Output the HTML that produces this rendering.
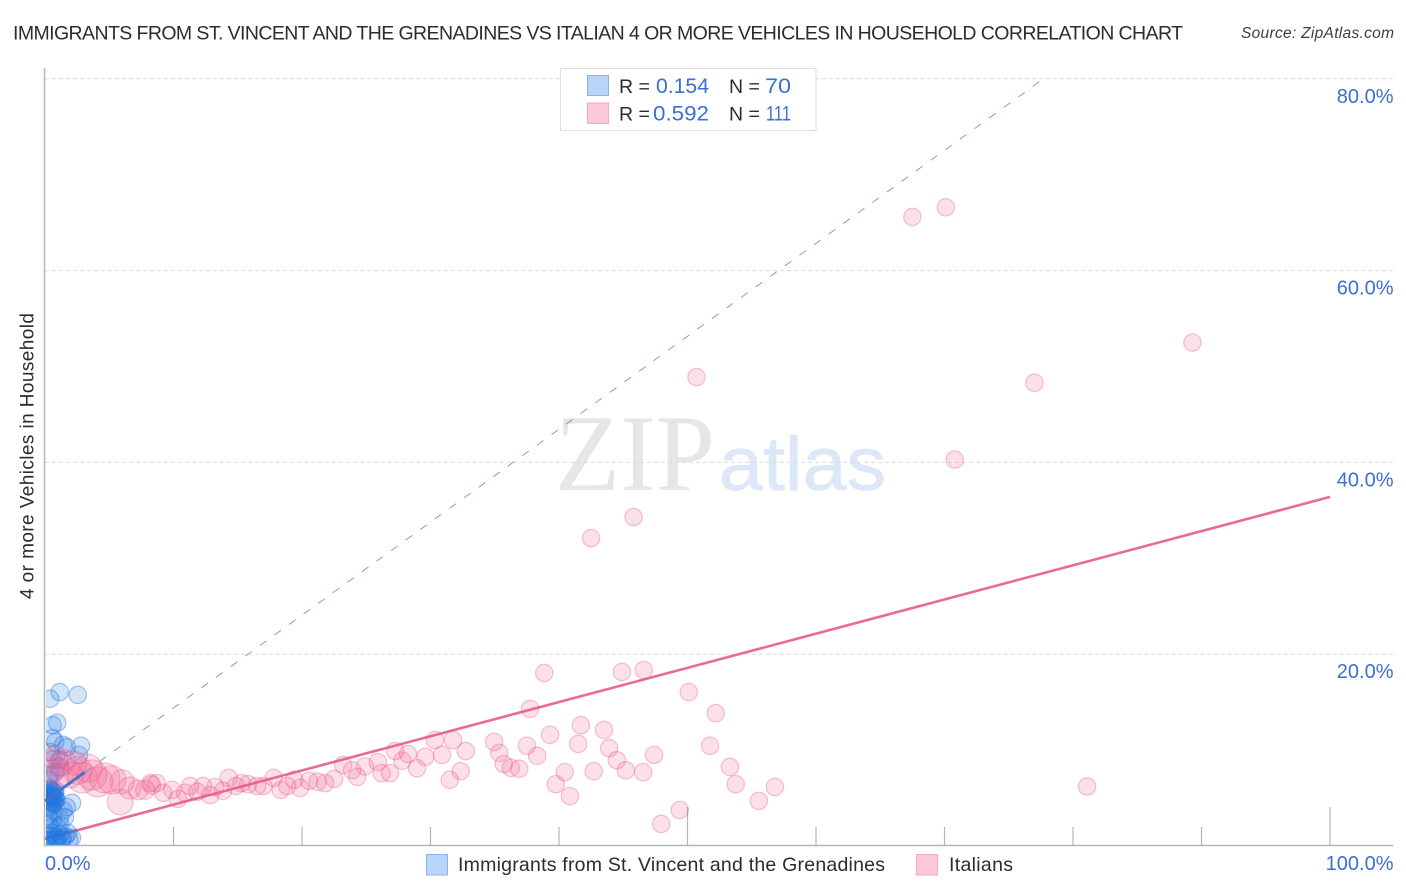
<!DOCTYPE html>
<html lang="en">
<head>
<meta charset="utf-8">
<title>Immigrants from St. Vincent and the Grenadines vs Italian 4 or more Vehicles in Household Correlation Chart</title>
<style>
html,body{margin:0;padding:0;background:#fff;}
svg{display:block;font-family:"Liberation Sans",sans-serif;}
</style>
</head>
<body>
<svg id="chart" xmlns="http://www.w3.org/2000/svg" width="1406" height="892" viewBox="0 0 1406 892">
  <defs>
    <clipPath id="plot-clip"><rect x="46" y="60" width="1350" height="785"></rect></clipPath>
  </defs>
  <rect x="0" y="0" width="1406" height="892" fill="#fff"></rect>
  <text x="13" y="39.5" font-size="19.5" fill="#2b2b33" textLength="1170" lengthAdjust="spacing">IMMIGRANTS FROM ST. VINCENT AND THE GRENADINES VS ITALIAN 4 OR MORE VEHICLES IN HOUSEHOLD CORRELATION CHART</text>
  <text x="1394" y="38" font-size="15.5" font-style="italic" fill="#3c3c44" text-anchor="end" textLength="153" lengthAdjust="spacing">Source: ZipAtlas.com</text>

  <g>
    <text x="555" y="490" font-family="'Liberation Serif',serif" font-size="109" fill="#e6e6e6" textLength="160" lengthAdjust="spacingAndGlyphs">ZIP</text>
    <text x="719" y="490" font-size="76" fill="#dce8f8" stroke="#dce8f8" stroke-width="0.7" textLength="167" lengthAdjust="spacingAndGlyphs">atlas</text>
  </g>

  <g id="grid"></g>
  <g id="axes"></g>
  <g id="pink-trend"></g>
  <g id="blue-points" clip-path="url(#plot-clip)"></g>
  <g id="pink-points" clip-path="url(#plot-clip)"></g>
  <g id="trends"></g>
  <g id="labels"></g>

  <text transform="translate(33.5,456) rotate(-90)" font-size="19" fill="#2b2b33" text-anchor="middle" textLength="286" lengthAdjust="spacing">4 or more Vehicles in Household</text>

  <g>
    <rect x="560.5" y="68.5" width="255.5" height="62" fill="#fff" stroke="#dedede"></rect>
    <rect x="587.5" y="75.5" width="21" height="20" fill="#b9d5fa" stroke="#8ab4e8"></rect>
    <rect x="587.5" y="103" width="21" height="20.5" fill="#fdc8d9" stroke="#f4a9c2"></rect>
    <text x="619" y="93" font-size="19.5" fill="#2b2b33">R =</text>
    <text x="656" y="93" font-size="21" fill="#3b6fd4" textLength="53" lengthAdjust="spacingAndGlyphs">0.154</text>
    <text x="729" y="93" font-size="19.5" fill="#2b2b33">N =</text>
    <text x="765" y="93" font-size="21" fill="#3b6fd4" textLength="26" lengthAdjust="spacingAndGlyphs">70</text>
    <text x="619" y="120.5" font-size="19.5" fill="#2b2b33">R =</text>
    <text x="653" y="120.5" font-size="21" fill="#3b6fd4" textLength="56" lengthAdjust="spacingAndGlyphs">0.592</text>
    <text x="729" y="120.5" font-size="19.5" fill="#2b2b33">N =</text>
    <text x="766" y="120.5" font-size="21" fill="#3b6fd4" textLength="25" lengthAdjust="spacingAndGlyphs">111</text>
  </g>

  <g>
    <rect x="426.5" y="854.5" width="21" height="20.5" fill="#b9d5fa" stroke="#8ab4e8"></rect>
    <text x="458" y="871" font-size="19.5" fill="#2b2b33" textLength="427" lengthAdjust="spacing">Immigrants from St. Vincent and the Grenadines</text>
    <rect x="916.5" y="854.5" width="21" height="20.5" fill="#fdc8d9" stroke="#f4a9c2"></rect>
    <text x="949" y="871" font-size="19.5" fill="#2b2b33" textLength="64" lengthAdjust="spacing">Italians</text>
  </g>
</svg>
<script>
var yTickValues = [20, 40, 60, 80];
var yTickLabels = ["20.0%", "40.0%", "60.0%", "80.0%"];
var xTickValues = [10, 20, 30, 40, 50, 60, 70, 80, 90, 100];
var xMajorTicks = [50, 100];
var xEndValues = [0, 100];
var xEndLabels = ["0.0%", "100.0%"];

var blueX = [1.15,2.55,0.4,0.95,0.6,0.6,0.8,1.4,1.7,2.8,2.65,1.15,0.6,0.4,1.15,0.8,0.4,0.25,
  0.3,0.4,0.5,0.6,0.7,0.8,0.3,0.4,0.5,0.6,0.7,0.8,0.9,0.35,0.45,0.55,0.65,0.75,0.2,0.4,0.6,0.8,0.5,0.3,0.7,
  2.1,1.7,1.55,1.15,0.6,0.4,0.6,1.15,1.8,2.1,1.4,0.95,0.4,0.1,1.6,1.0,0.3,0.2,1.2,0.8,1.3,0.5,0.7,1.9,1.45,0.25,0.9];
var blueY = [16.05,15.75,15.35,12.85,12.6,11.25,10.85,10.55,10.3,10.45,9.5,9.0,9.0,9.8,8.25,7.7,7.4,6.9,
  6.0,5.8,5.9,5.7,5.6,5.4,5.2,5.0,5.3,5.1,4.9,5.0,4.8,4.6,4.7,4.5,4.4,4.6,5.5,5.5,5.2,5.8,4.2,3.9,3.7,
  4.5,4.05,3.0,3.0,2.7,1.9,1.35,1.15,1.35,0.85,0.85,0.65,0.65,0.6,1.0,1.9,2.3,1.0,2.2,0.9,0.7,1.1,0.6,0.7,3.7,3.1,0.8];

var pinkX = [67.5,70.1,89.3,77.0,70.8,50.7,45.8,42.5,81.1,
  30.35,30.9,29.6,28.95,27.8,28.25,27.25,26.85,26.2,25.9,24.9,24.3,23.9,23.2,22.5,21.8,21.2,20.55,19.85,19.4,18.35,17.8,18.85,17.0,16.5,15.8,15.3,14.85,14.3,13.85,13.25,12.85,12.3,11.85,11.3,10.9,10.35,9.9,9.2,8.7,8.2,
  0.4,0.4,0.8,1.2,1.3,1.6,1.95,2.3,2.55,2.9,3.35,3.65,4.1,4.65,5.2,5.85,6.0,6.6,7.25,7.8,8.3,
  31.75,32.75,32.35,31.5,34.95,35.35,35.7,36.25,36.9,37.5,38.3,39.3,37.75,38.85,41.7,41.5,43.5,43.9,44.5,45.2,46.55,47.4,40.45,39.75,40.85,42.7,44.9,46.6,50.1,52.2,51.75,53.3,53.75,56.8,55.55,49.4,47.95,34.3,33.85,33.45,29.35];
var pinkY = [65.6,66.6,52.5,48.3,40.3,48.9,34.3,32.1,6.2,
  11.05,9.5,9.3,8.1,8.9,9.6,9.9,7.6,7.6,8.75,8.3,7.2,7.9,8.45,7.0,6.55,6.7,6.8,6.05,6.9,5.85,7.1,6.25,6.25,6.25,6.45,6.55,6.25,7.1,5.75,6.15,5.3,6.25,5.65,6.25,5.55,4.9,5.85,5.55,6.55,6.55,
  9.0,7.7,9.5,8.45,7.4,9.0,7.4,8.65,7.9,7.1,8.1,7.4,6.7,7.1,6.9,4.6,6.7,6.05,5.85,5.85,6.35,
  11.05,9.9,7.8,6.9,10.85,9.7,8.55,8.15,8.05,10.45,9.4,11.6,14.3,18.05,12.6,10.65,12.1,10.2,8.95,7.9,7.7,9.5,7.7,6.45,5.2,7.8,18.15,18.35,16.05,13.85,10.45,8.25,6.45,6.15,4.7,3.75,2.3,13.95,12.5,11.9,9.3];
var pinkWeight = [1,1,1,1,1,1,1,1,1,
  1,1,1,1,1,1,1,1,1,1,1,1,1,1,1,1,1,1,1,1,1,1,1,1,1,1,1,1,1,1,1,1,1,1,1,1,1,1,1,1,1,
  1.3,1.9,1.3,1.9,1.9,1.3,2.2,1.9,2.6,3,2.6,3,3,3,2.6,2.2,1.9,1.6,1.3,1.2,1.1,
  1,1,1,1,1,1,1,1,1,1,1,1,1,1,1,1,1,1,1,1,1,1,1,1,1,1,1,1,1,1,1,1,1,1,1,1,1];

var blueTrendX = [0, 3.1];
var blueTrendY = [4.7, 7.7];
var blueProjectionX = [3.1, 77.7];
var blueProjectionY = [7.7, 80];
var pinkTrendX = [0, 100];
var pinkTrendY = [0.75, 36.4];

var NS = "http://www.w3.org/2000/svg";
function sx(v) { return 45 + v * 12.85; }
function sy(v) { return 846 - v * 9.59; }
function sr(w) { return 8.7 * Math.sqrt(w); }
function make(tag, attrs, parent) {
  var el = document.createElementNS(NS, tag);
  for (var k in attrs) { el.setAttribute(k, attrs[k]); }
  parent.appendChild(el);
  return el;
}

var grid = document.getElementById("grid");
var axes = document.getElementById("axes");
var labels = document.getElementById("labels");
var trends = document.getElementById("trends");
var pinkTrend = document.getElementById("pink-trend");
var bluePoints = document.getElementById("blue-points");
var pinkPoints = document.getElementById("pink-points");

yTickValues.forEach(function (v, i) {
  var g = make("line", {x1: 45, x2: 1393, y1: sy(v), y2: sy(v), stroke: "#dcdcdc", "stroke-width": 1, "stroke-dasharray": "4 3"}, grid);
  
  
  var t = make("text", {x: 1393.5, y: sy(v) + 24, "font-size": 20, fill: "#3b6fd4", "text-anchor": "end"}, labels);
  
  
  t.textContent = yTickLabels[i];
});

var yAxis = make("line", {x1: 44.5, x2: 44.5, y1: 68, y2: 846, stroke: "#b5b5b5", "stroke-width": 1.5}, axes);


var xAxis = make("line", {x1: 44, x2: 1393, y1: 845.5, y2: 845.5, stroke: "#b5b5b5", "stroke-width": 1.5}, axes);



xTickValues.forEach(function (v) {
  var major = xMajorTicks.indexOf(v) >= 0;
  var tick = make("line", {x1: sx(v), x2: sx(v), y1: major ? 807 : 827, y2: 846, stroke: "#b5b5b5", "stroke-width": 1.2}, axes);
  
  
});

xEndValues.forEach(function (v, i) {
  var t = make("text", {x: i === 0 ? sx(v) : 1393.5, y: 870, "font-size": 20, fill: "#3b6fd4", "text-anchor": i === 0 ? "start" : "end"}, labels);
  
  
  t.textContent = xEndLabels[i];
});

var pinkLine = make("line", {x1: sx(pinkTrendX[0]), y1: sy(pinkTrendY[0]), x2: sx(pinkTrendX[1]), y2: sy(pinkTrendY[1]), stroke: "#ea6a97", "stroke-width": 2.6}, pinkTrend);



blueX.forEach(function (v, i) {
  var c = make("circle", {cx: sx(v), cy: sy(blueY[i]), r: 8.7, fill: "rgba(30,120,232,0.2)", stroke: "rgba(40,120,215,0.42)", "stroke-width": 1.2}, bluePoints);
  
  
});

pinkX.forEach(function (v, i) {
  var c = make("circle", {cx: sx(v), cy: sy(pinkY[i]), r: sr(pinkWeight[i]), fill: "rgba(238,90,140,0.19)", stroke: "rgba(232,90,140,0.36)", "stroke-width": 1.2}, pinkPoints);
  
  
});

var dash = make("line", {x1: sx(blueProjectionX[0]), y1: sy(blueProjectionY[0]), x2: sx(blueProjectionX[1]), y2: sy(blueProjectionY[1]), stroke: "#6f95d6", "stroke-width": 0.9, "stroke-dasharray": "8 10"}, trends);


var blueLine = make("line", {x1: sx(blueTrendX[0]), y1: sy(blueTrendY[0]), x2: sx(blueTrendX[1]), y2: sy(blueTrendY[1]), stroke: "#4a6fc8", "stroke-width": 3}, trends);


</script>
</body>
</html>
